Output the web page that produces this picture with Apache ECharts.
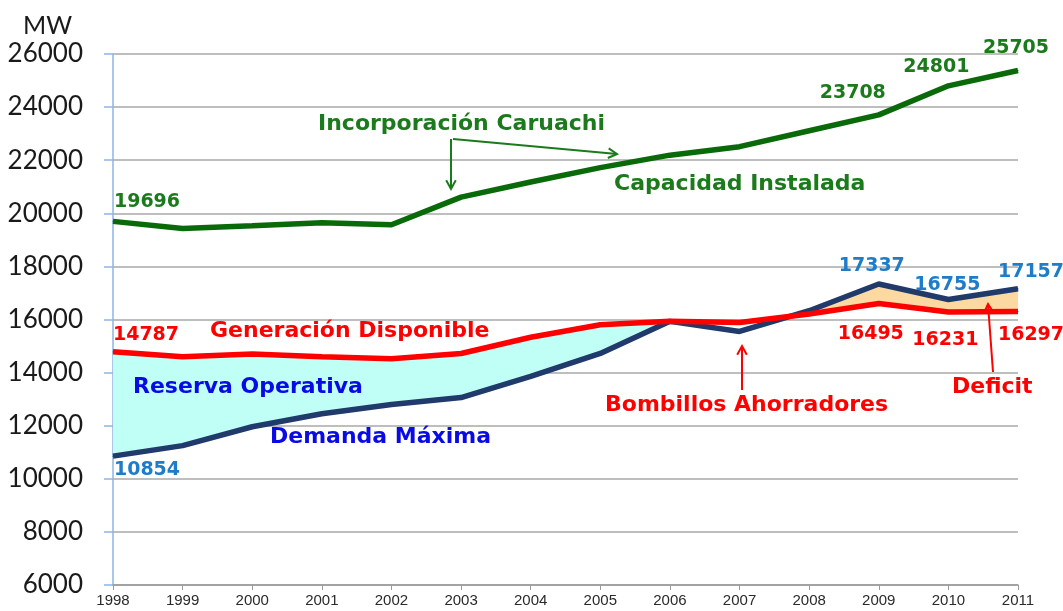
<!DOCTYPE html>
<html>
<head>
<meta charset="utf-8">
<script src="https://cdn.jsdelivr.net/npm/echarts@6/dist/echarts.min.js"></script>
<style>
html,body{margin:0;padding:0;background:#fff;}
#c{width:1063px;height:611px;}
</style>
</head>
<body>
<div id="c"></div>
<script>
// ---- data ----
var years = ['1998','1999','2000','2001','2002','2003','2004','2005','2006','2007','2008','2009','2010','2011'];
var capacidad = [19696, 19430, 19530, 19640, 19570, 20610, 21180, 21720, 22190, 22510, 23110, 23708, 24801, 25380];
var demanda   = [10854, 11250, 11960, 12450, 12800, 13060, 13860, 14720, 15930, 15550, 16330, 17337, 16755, 17157];
var generacion= [14787, 14600, 14700, 14600, 14520, 14720, 15330, 15800, 15930, 15890, 16210, 16600, 16280, 16297];
var capLabels = ['19696','','','','','','','','','','','23708','24801','25705'];
var demLabels = ['10854','','','','','','','','','','','17337','16755','17157'];
var genLabels = ['14787','','','','','','','','','','','16495','16231','16297'];
var yTicks = {min: 6000, max: 26000, interval: 2000};

// ---- layout of value labels (pixel offsets from point) ----
var capOff = {0:[34,-19], 11:[-26,-22], 12:[-12,-19], 13:[-2,-22]};
var demOff = {0:[34,14], 11:[-7,-18], 12:[-1,-14], 13:[13,-17]};
var genOff = {0:[33,-17], 11:[-8,30], 12:[-3,28], 13:[13,23]};

var LABEL_FONT = 'DejaVu Sans';
function withLabels(vals, texts, offs, color) {
  return vals.map(function (v, i) {
    if (!texts[i]) return v;
    return {
      value: v,
      label: {
        show: true, position: 'inside', formatter: texts[i], offset: offs[i],
        color: color, fontFamily: LABEL_FONT, fontWeight: 'bold', fontSize: 19
      }
    };
  });
}

// fill bands
var cyanBase = demanda.map(function (d, i) { return i <= 8 ? d : null; });
var cyanTop = generacion.map(function (g, i) { return i <= 8 ? Math.max(g - demanda[i], 0) : null; });
var peachBase = generacion.map(function (g, i) { return i >= 10 ? g : null; });
var peachTop = demanda.map(function (d, i) { return i >= 10 ? Math.max(d - generacion[i], 0) : null; });

var GREEN = '#0a6a0a', GREEN_T = '#1b7a1b', RED = '#ff0000', NAVY = '#1f3a6b', BLUE_L = '#1f7cc8', BLUE_T = '#0a0ae6';

var chart = echarts.init(document.getElementById('c'), null, {renderer: 'canvas'});

function arrowHead(x, y, ang, color) {
  var L = 10, w = 0.5;
  return {
    type: 'polyline', silent: true, z: 100,
    shape: {points: [
      [x - L * Math.cos(ang - w), y - L * Math.sin(ang - w)],
      [x, y],
      [x - L * Math.cos(ang + w), y - L * Math.sin(ang + w)]
    ]},
    style: {stroke: color, lineWidth: 2, fill: null}
  };
}
function arrow(x1, y1, x2, y2, color) {
  var ang = Math.atan2(y2 - y1, x2 - x1);
  return [
    {type: 'line', silent: true, z: 100, shape: {x1: x1, y1: y1, x2: x2, y2: y2}, style: {stroke: color, lineWidth: 2}},
    arrowHead(x2, y2, ang, color)
  ];
}
function note(text, left, cy, color) {
  return {
    type: 'text', left: left, top: cy - 13, z: 100, silent: true,
    style: {text: text, fill: color, font: 'bold 22px "DejaVu Sans"'}
  };
}

var graphics = [].concat(
  [note('Incorporación Caruachi', 318, 126, GREEN_T)],
  [note('Capacidad Instalada', 614, 186, GREEN_T)],
  [note('Generación Disponible', 210, 333, RED)],
  [note('Reserva Operativa', 133, 389, BLUE_T)],
  [note('Demanda Máxima', 270, 439, BLUE_T)],
  [note('Bombillos Ahorradores', 605, 407, RED)],
  [note('Deficit', 952, 389, RED)],
  arrow(451, 139, 451, 189, GREEN_T),
  arrow(453, 139, 617, 154, GREEN_T),
  arrow(742, 390, 742, 346, RED),
  arrow(993, 372, 988, 304, RED)
);

chart.setOption({
  animation: false,
  backgroundColor: '#ffffff',
  title: {text: 'MW', left: 18, top: 8, textStyle: {fontFamily: 'Lato', fontWeight: 'normal', fontSize: 25, color: '#1a1a1a'}},
  grid: {left: 113, right: 45, top: 54, bottom: 26, containLabel: false},
  xAxis: {
    type: 'category', data: years, boundaryGap: false,
    axisLine: {lineStyle: {color: '#9a9a9a', width: 1.5}},
    axisTick: {show: true, length: 5, lineStyle: {color: '#9a9a9a'}},
    axisLabel: {fontFamily: 'Liberation Sans', fontSize: 15, color: '#2a2a2a', margin: 8},
    splitLine: {show: false}
  },
  yAxis: {
    type: 'value', min: yTicks.min, max: yTicks.max, interval: yTicks.interval,
    axisLine: {show: true, lineStyle: {color: '#8eb4e3', width: 1.5}},
    axisTick: {show: true, length: 9, lineStyle: {color: '#8eb4e3', width: 1.5}},
    axisLabel: {fontFamily: 'Lato', fontSize: 26, color: '#1a1a1a', margin: 30,
      formatter: function (v) { return String(v); }},
    splitLine: {lineStyle: {color: '#a8a8a8', width: 1.5}}
  },
  series: [
    {type: 'line', stack: 'cyan', data: cyanBase, symbol: 'none', lineStyle: {width: 0}, silent: true, z: 1},
    {type: 'line', stack: 'cyan', data: cyanTop, symbol: 'none', lineStyle: {width: 0}, areaStyle: {color: '#bffff6', opacity: 1}, silent: true, z: 1},
    {type: 'line', stack: 'peach', data: peachBase, symbol: 'none', lineStyle: {width: 0}, silent: true, z: 1},
    {type: 'line', stack: 'peach', data: peachTop, symbol: 'none', lineStyle: {width: 0}, areaStyle: {color: '#fcd9a0', opacity: 1}, silent: true, z: 1},
    {name: 'Capacidad Instalada', type: 'line', data: withLabels(capacidad, capLabels, capOff, GREEN_T),
      symbol: 'circle', symbolSize: 1, itemStyle: {color: GREEN}, lineStyle: {color: GREEN, width: 5.5}, z: 3},
    {name: 'Demanda Máxima', type: 'line', data: withLabels(demanda, demLabels, demOff, BLUE_L),
      symbol: 'circle', symbolSize: 1, itemStyle: {color: NAVY}, lineStyle: {color: NAVY, width: 5.5}, z: 4},
    {name: 'Generación Disponible', type: 'line', data: withLabels(generacion, genLabels, genOff, RED),
      symbol: 'circle', symbolSize: 1, itemStyle: {color: RED}, lineStyle: {color: RED, width: 5.5}, z: 5}
  ],
  graphic: graphics
});
</script>
</body>
</html>
